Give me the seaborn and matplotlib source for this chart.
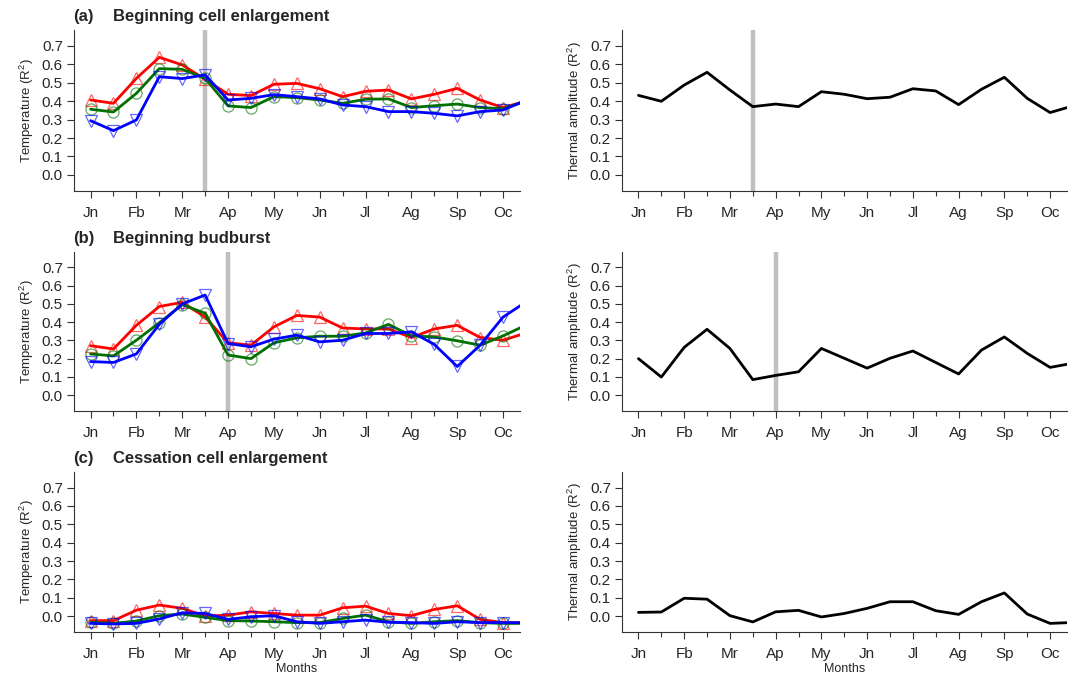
import matplotlib
matplotlib.use("Agg")
import matplotlib.pyplot as plt
import numpy as np
import pandas as pd
import seaborn as sns

# 20 half-month windows, Jan .. Oct (last one just past the axis edge)
month_labels = ["Jn", "Fb", "Mr", "Ap", "My", "Jn", "Jl", "Ag", "Sp", "Oc"]
window = list(range(20))

# (a) Beginning cell enlargement
a_red = [0.406, 0.388, 0.523, 0.637, 0.596, 0.518, 0.437, 0.430, 0.491, 0.496,
         0.467, 0.424, 0.453, 0.460, 0.412, 0.437, 0.469, 0.406, 0.365, 0.400]
a_green = [0.356, 0.341, 0.442, 0.576, 0.572, 0.523, 0.374, 0.365, 0.424, 0.419,
           0.406, 0.388, 0.410, 0.412, 0.365, 0.375, 0.384, 0.365, 0.359, 0.400]
a_blue = [0.294, 0.240, 0.298, 0.532, 0.522, 0.542, 0.406, 0.415, 0.435, 0.424,
          0.412, 0.379, 0.370, 0.343, 0.343, 0.334, 0.320, 0.343, 0.352, 0.404]
a_amp = [0.431, 0.399, 0.487, 0.556, 0.460, 0.370, 0.384, 0.370, 0.451, 0.437,
         0.413, 0.421, 0.467, 0.455, 0.381, 0.464, 0.529, 0.415, 0.338, 0.374]

# (b) Beginning budburst
b_red = [0.271, 0.253, 0.383, 0.486, 0.509, 0.428, 0.287, 0.274, 0.374, 0.437,
         0.428, 0.368, 0.363, 0.363, 0.316, 0.363, 0.383, 0.316, 0.301, 0.341]
b_green = [0.226, 0.215, 0.301, 0.397, 0.496, 0.449, 0.220, 0.200, 0.287, 0.314,
           0.323, 0.323, 0.341, 0.388, 0.325, 0.319, 0.298, 0.274, 0.325, 0.384]
b_blue = [0.184, 0.179, 0.226, 0.388, 0.500, 0.549, 0.283, 0.265, 0.307, 0.329,
          0.292, 0.301, 0.338, 0.338, 0.347, 0.278, 0.157, 0.274, 0.428, 0.511]
b_amp = [0.200, 0.099, 0.262, 0.361, 0.256, 0.085, 0.108, 0.128, 0.256, 0.202,
         0.148, 0.202, 0.242, 0.179, 0.116, 0.247, 0.319, 0.229, 0.152, 0.175]

# (c) Cessation cell enlargement
c_red = [-0.025, -0.025, 0.032, 0.060, 0.042, 0.000, 0.005, 0.023, 0.014, 0.005,
         0.005, 0.045, 0.054, 0.014, 0.002, 0.036, 0.056, -0.018, -0.036, -0.036]
c_green = [-0.034, -0.040, -0.027, 0.002, 0.011, -0.007, -0.025, -0.027, -0.031, -0.036,
           -0.036, -0.013, 0.005, -0.031, -0.040, -0.031, -0.025, -0.036, -0.040, -0.040]
c_blue = [-0.040, -0.043, -0.040, -0.016, 0.018, 0.014, -0.018, -0.004, 0.002, -0.031,
          -0.040, -0.031, -0.022, -0.034, -0.036, -0.040, -0.031, -0.036, -0.036, -0.036]
c_amp = [0.020, 0.022, 0.097, 0.092, 0.002, -0.032, 0.023, 0.031, -0.005, 0.014,
         0.042, 0.078, 0.078, 0.029, 0.009, 0.078, 0.126, 0.011, -0.040, -0.035]

panel_letters = ["(a)", "(b)", "(c)"]
panel_titles = ["Beginning cell enlargement", "Beginning budburst", "Cessation cell enlargement"]
onset_window = [5, 6, None]  # grey vertical line


def style_axis(ax, show_xlabel):
    ax.set_xlim(-0.72, 18.74)
    ax.set_ylim(-0.087, 0.785)
    ax.set_xticks(range(0, 19, 2))
    ax.set_xticklabels(month_labels)
    ax.set_xticks(range(1, 19, 2), minor=True)
    ax.set_yticks(np.arange(0, 0.71, 0.1))
    ax.set_yticklabels([f"{v:.1f}" for v in np.arange(0, 0.71, 0.1)])
    ax.tick_params(axis="both", which="major", length=5, width=0.8, labelsize=11,
                   direction="out", color="#333333", pad=3)
    ax.tick_params(axis="x", which="minor", length=3.5, width=0.8, direction="out",
                   color="#333333")
    ax.tick_params(axis="x", pad=6)
    for s in ["top", "right"]:
        ax.spines[s].set_visible(False)
    for s in ["left", "bottom"]:
        ax.spines[s].set_linewidth(0.8)
        ax.spines[s].set_color("#333333")
    ax.set_xlabel("Months" if show_xlabel else "", fontsize=9, labelpad=1)


def main():
    sns.set_theme(style="ticks")
    plt.rcParams["font.family"] = ["Liberation Sans", "DejaVu Sans"]
    plt.rcParams["mathtext.fontset"] = "custom"
    plt.rcParams["mathtext.rm"] = "Liberation Sans"

    fig = plt.figure(figsize=(10.7, 6.82), dpi=100)

    reds = [a_red, b_red, c_red]
    greens = [a_green, b_green, c_green]
    blues = [a_blue, b_blue, c_blue]
    amps = [a_amp, b_amp, c_amp]

    rows = [(0.7199, 0.2361), (0.3974, 0.2331), (0.0733, 0.2346)]

    for i in range(3):
        bottom, height = rows[i]
        axl = fig.add_axes([0.0692, bottom, 0.4168, height])
        axr = fig.add_axes([0.5813, bottom, 0.4159, height])

        df = pd.DataFrame({"window": window, "red": reds[i], "green": greens[i],
                           "blue": blues[i], "amp": amps[i]})

        if onset_window[i] is not None:
            axl.axvline(onset_window[i], color="#c0c0c0", lw=3.2, zorder=1)
            axr.axvline(onset_window[i], color="#c0c0c0", lw=3.2, zorder=1)

        for col, c, edge, m in [("red", "#ff0000", (1, 0, 0, 0.6), "^"),
                                ("green", "#007000", (0, 0.44, 0, 0.6), "o"),
                                ("blue", "#0000ff", (0, 0, 1, 0.6), "v")]:
            sns.lineplot(data=df, x="window", y=col, ax=axl, color=c, lw=2,
                         marker=m, markersize=8, markerfacecolor="none",
                         markeredgecolor=edge, markeredgewidth=0.9, zorder=3)
            axl.lines[-1].set_markevery(list(range(19)))

        sns.lineplot(data=df, x="window", y="amp", ax=axr, color="black", lw=2, zorder=3)

        style_axis(axl, i == 2)
        style_axis(axr, i == 2)
        axl.set_ylabel("Temperature (R$^2$)", fontsize=9.5, labelpad=4)
        axr.set_ylabel("Thermal amplitude (R$^2$)", fontsize=9.5, labelpad=4)

        axl.text(-0.003, 1.035, panel_letters[i], transform=axl.transAxes,
                 fontsize=12, fontweight="bold", va="bottom", ha="left")
        axl.text(0.088, 1.035, panel_titles[i], transform=axl.transAxes,
                 fontsize=12, fontweight="bold", va="bottom", ha="left")

    fig.savefig("out.png", dpi=100)


if __name__ == "__main__":
    main()
